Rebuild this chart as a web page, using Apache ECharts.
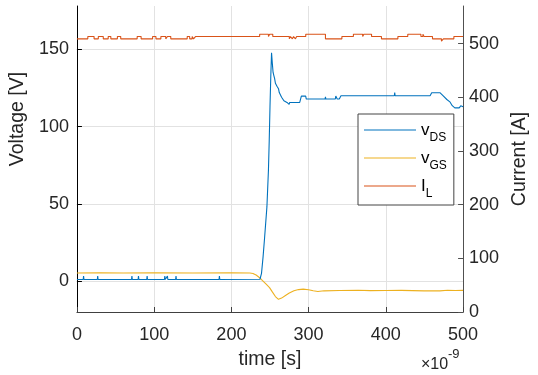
<!DOCTYPE html>
<html>
<head>
<meta charset="utf-8">
<script src="https://cdn.jsdelivr.net/npm/echarts@6/dist/echarts.min.js"></script>
<style>
  html, body { margin: 0; padding: 0; background: #ffffff; }
  #chart { width: 538px; height: 375px; }
</style>
</head>
<body>
<div id="chart"></div>
<script>
// Switching transient: drain-source voltage, gate-source voltage and load current
// Time axis in ns (labelled with a x10^-9 exponent)

const xTicks = [0, 100, 200, 300, 400, 500];
const voltageTicks = [0, 50, 100, 150];
const currentTicks = [0, 100, 200, 300, 400, 500];

// v_DS [V]
const vdsTime = [0, 8.1, 8.6, 9.1, 26.4, 26.9, 27.4, 70.7, 71.2, 71.7, 79.2, 79.7, 80.2,
  90.4, 90.9, 91.4, 113.3, 113.8, 114.3, 116.7, 117.2, 117.7, 127.8, 128.3, 128.8,
  184.0, 184.5, 185.0,
  237, 239, 241, 243, 246, 248, 249, 250, 251, 252,
  253, 254, 255, 256, 257, 258, 259.4, 261, 262, 263.7,
  265, 266, 268, 270, 272, 274, 274.8, 275.5, 288.5, 290.6,
  296.2, 297, 321.3, 321.8, 322.3, 334.6, 335.2, 336.3, 337, 339.7,
  341.9, 411, 411.5, 412, 457.3, 459.4, 463, 465, 467, 470,
  472.2, 474, 476.5, 479, 482.9, 486, 489.3, 495, 497, 500];
const vdsValue = [1.0, 1.0, 3.2, 1.0, 1.0, 3.2, 1.0, 1.0, 3.2, 1.0, 1.0, 3.2, 1.0,
  1.0, 3.2, 1.0, 1.0, 3.2, 1.0, 1.0, 3.2, 1.0, 1.0, 3.2, 1.0,
  1.0, 3.2, 1.0,
  1.2, 5, 15.5, 28, 48, 72, 91, 113, 132, 147.8,
  141, 135, 133, 131, 128, 127.5, 125.8, 124.5, 122, 121.5,
  119, 119.5, 116.7, 117, 115.6, 115.6, 114.3, 115.6, 115.6, 119.7,
  119.7, 117.8, 117.8, 119.2, 117.8, 117.8, 119.7, 119.7, 117.8, 117.8,
  119.9, 119.9, 122.0, 119.9, 119.9, 121.9, 121.9, 121.2, 121.9, 121.9,
  121.0, 120.0, 119.3, 117.5, 116.0, 113.5, 112.1, 112.1, 113.4, 112.8];

// v_GS [V]
const vgsTime = [0, 30, 60, 100, 150, 200, 224, 228, 232, 236.6,
  240, 245, 249.4, 253, 257, 261, 265, 270, 275, 281,
  287, 293, 300, 306, 312, 320, 340, 364, 380, 400,
  420, 449.6, 470, 480, 490, 500];
const vgsValue = [5.2, 5.3, 5.2, 5.3, 5.2, 5.3, 5.2, 4.9, 3.9, 2.2,
  0.4, -2.0, -4.2, -7.0, -10.0, -11.8, -11.0, -9.3, -7.7, -6.3,
  -5.5, -5.2, -5.6, -6.3, -6.7, -6.3, -6.1, -5.9, -6.2, -6.1,
  -6.0, -6.3, -6.3, -5.9, -6.1, -6.0];

// I_L [A], sampled levels (held until the next sample)
const ilTime = [0, 14.1, 22.2, 27.7, 34.1, 40.5, 43.9, 52.4, 56.7, 78,
  83.1, 98, 102.3, 108.7, 115, 117.2, 121.5, 142.8, 146, 149.2,
  151, 153.5, 236.6, 248, 249.5, 253.6, 275, 276.5, 279, 280.5,
  283, 284.5, 296.3, 321.8, 343.1, 358, 370, 371.5, 381.5, 394.3,
  415.6, 428.4, 445.4, 448, 449.5, 460.4, 472, 474.5, 488.1, 500];
const ilValue = [508.8, 513.1, 508.8, 513.1, 508.8, 513.1, 508.8, 513.1, 508.8, 513.1,
  508.8, 513.1, 508.8, 513.1, 508.8, 513.1, 508.8, 513.1, 508.8, 513.1,
  508.8, 513.1, 517.5, 513.1, 517.5, 513.1, 508.8, 513.1, 508.8, 513.1,
  508.8, 513.1, 517.5, 508.8, 513.1, 517.5, 513.1, 517.5, 513.1, 508.8,
  513.1, 517.5, 513.1, 517.5, 513.1, 508.8, 504.5, 508.8, 513.1, 513.1];

const zip = (a, b) => a.map((t, i) => [t, b[i]]);

const FONT = '"Liberation Sans", Arial, Helvetica, sans-serif';
const TXT = '#262626';
const GRID = '#e2e2e2';

const COLORS = { vDS: '#0072BD', vGS: '#EDB120', IL: '#D95319' };

const legendLabels = {
  vDS: '{m|v}{s|DS}',
  vGS: '{m|v}{s|GS}',
  IL: '{m|I}{s|L}'
};

const chart = echarts.init(document.getElementById('chart'), null, { renderer: 'canvas' });

chart.setOption({
  animation: false,
  backgroundColor: '#ffffff',
  grid: { left: 75, right: 72, top: 6, bottom: 63, containLabel: false },
  xAxis: {
    type: 'value', min: 0, max: 500,
    name: 'time [s]', nameLocation: 'middle', nameGap: 38,
    nameTextStyle: { fontFamily: FONT, fontSize: 19.5, color: TXT },
    axisLine: { show: true, onZero: false, lineStyle: { color: '#404040', width: 1 } },
    axisTick: { show: true, inside: true, length: 5, customValues: xTicks, lineStyle: { color: '#404040' } },
    axisLabel: { customValues: xTicks, fontFamily: FONT, fontSize: 18, color: TXT, margin: 14 },
    splitLine: { show: true, lineStyle: { color: GRID, width: 1 } }
  },
  yAxis: [
    {
      type: 'value', position: 'left', min: -20, max: 178,
      name: 'Voltage [V]', nameLocation: 'middle', nameGap: 40,
      // label sits above the axis centre
      nameTextStyle: { fontFamily: FONT, fontSize: 19.5, color: TXT, padding: [0, 0, 0, 80] },
      axisLine: { show: true, onZero: false, lineStyle: { color: '#000000', width: 1 } },
      axisTick: { show: true, inside: true, length: 5, customValues: voltageTicks, lineStyle: { color: '#000000' } },
      axisLabel: { customValues: voltageTicks, fontFamily: FONT, fontSize: 18, color: TXT, margin: 8 },
      splitLine: { show: true, lineStyle: { color: GRID, width: 1 } }
    },
    {
      type: 'value', position: 'right', min: 0, max: 570,
      name: 'Current [A]', nameLocation: 'middle', nameGap: 45,
      nameTextStyle: { fontFamily: FONT, fontSize: 19.5, color: TXT },
      axisLine: { show: true, onZero: false, lineStyle: { color: '#505050', width: 1 } },
      axisTick: { show: true, inside: true, length: 5, customValues: currentTicks, lineStyle: { color: '#505050' } },
      axisLabel: { customValues: currentTicks, fontFamily: FONT, fontSize: 18, color: TXT, margin: 6 },
      splitLine: { show: false }
    }
  ],
  legend: {
    orient: 'vertical', left: 358, top: 114,
    padding: [7.5, 7, 5.5, 6],
    icon: 'rect',
    itemWidth: 52, itemHeight: 1.2, itemGap: 6,
    borderColor: '#444444', borderWidth: 1, backgroundColor: '#ffffff',
    z: 10,
    data: ['vDS', 'vGS', 'IL'].map(n => ({
      name: n,
      itemStyle: { color: COLORS[n], borderWidth: 0, opacity: 1 }
    })),
    formatter: name => legendLabels[name],
    textStyle: {
      fontFamily: FONT, fontSize: 17, color: '#000000',
      rich: {
        m: { fontFamily: FONT, fontSize: 17, color: '#000000' },
        s: { fontFamily: FONT, fontSize: 12, color: '#000000', padding: [15, 0, 0, 0] }
      }
    }
  },
  graphic: [
    { type: 'text', x: 421, y: 365, z: 10,
      style: { text: '×10', font: '16px ' + FONT, fill: TXT, textAlign: 'left', textVerticalAlign: 'middle', align: 'left', verticalAlign: 'middle' } },
    { type: 'text', x: 448, y: 354.5, z: 10,
      style: { text: '-9', font: '13px ' + FONT, fill: TXT, textAlign: 'left', textVerticalAlign: 'middle', align: 'left', verticalAlign: 'middle' } }
  ],
  series: [
    {
      name: 'vDS', type: 'line', yAxisIndex: 0, data: zip(vdsTime, vdsValue),
      symbol: 'none', z: 4, color: COLORS.vDS,
      itemStyle: { color: COLORS.vDS },
      lineStyle: { color: COLORS.vDS, width: 1.1 }
    },
    {
      name: 'vGS', type: 'line', yAxisIndex: 0, data: zip(vgsTime, vgsValue),
      symbol: 'none', z: 3, color: COLORS.vGS,
      itemStyle: { color: COLORS.vGS },
      lineStyle: { color: COLORS.vGS, width: 1.1 }
    },
    {
      name: 'IL', type: 'line', yAxisIndex: 1, data: zip(ilTime, ilValue),
      step: 'end', symbol: 'none', z: 2, color: COLORS.IL,
      itemStyle: { color: COLORS.IL },
      lineStyle: { color: COLORS.IL, width: 1.1 }
    }
  ]
});
</script>
</body>
</html>
